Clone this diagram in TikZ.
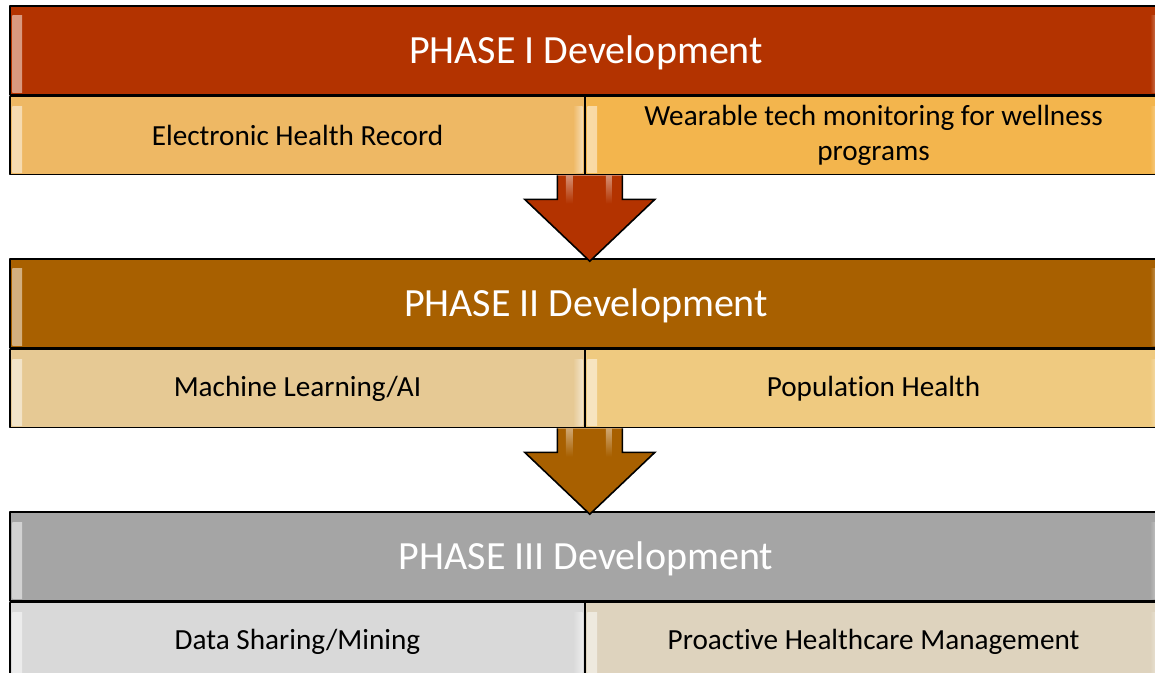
\documentclass[tikz,border=0pt]{standalone}
\usepackage{fontspec}
\setmainfont{Carlito}[Ligatures=NoCommon]
\usetikzlibrary{calc,positioning}
\definecolor{phRust}{HTML}{B33300}
\definecolor{phBrown}{HTML}{A86000}
\definecolor{phGray}{HTML}{A5A5A5}
\definecolor{phSandA}{HTML}{EEB864}
\definecolor{phSandB}{HTML}{F3B54D}
\definecolor{phTanA}{HTML}{E6C994}
\definecolor{phTanB}{HTML}{EFCA80}
\definecolor{phSilver}{HTML}{D9D9D9}
\definecolor{phLinen}{HTML}{DED3BE}
\tikzset{
 board/.style={line join=round,x=.5pt,y=-.5pt},
 bar/.style={rectangle,draw=black,line width=.8pt,inner sep=0pt,fill=#1,
   path picture={
     \shade[left color=white!50!#1,right color=#1]
       ([shift={(1.2pt,-5pt)}]path picture bounding box.north west) rectangle
       ([shift={(6pt,1.2pt)}]path picture bounding box.south west);
     \shade[left color=#1,right color=white!50!#1]
       ([shift={(-6pt,-5pt)}]path picture bounding box.north east) rectangle
       ([shift={(-1.2pt,1.2pt)}]path picture bounding box.south east);}},
 head/.style={bar=#1,minimum width=576pt,minimum height=44.5pt,text=white,
   text depth=1pt,font=\fontsize{20}{24}\selectfont},
 item/.style={bar=#1,minimum height=39pt,align=center,
   font=\fontsize{14.6}{17.5}\selectfont},
 drop/.style={draw=black,line width=.8pt,fill=#1,line join=miter},
 gleam/.style={top color=white!45!#1,bottom color=#1}
}
% block arrow hanging from the split of the item row (#1) down to header #2
\newcommand\droparrow[3]{%
 \coordinate (s#2) at ([xshift=2pt]#1.south east);
 \coordinate (t#2) at ([yshift=-1.5pt]s#2|-#2.north);
 \draw[drop=#3] ([xshift=-16.25pt]s#2) |- ([xshift=-32.5pt,yshift=-12pt]s#2)
   -- (t#2) -- ([xshift=32.5pt,yshift=-12pt]s#2) -| ([xshift=16.25pt]s#2);
 \shade[gleam=#3] ([xshift=-12pt]s#2) rectangle ([xshift=-8.5pt,yshift=-14pt]s#2);
 \shade[gleam=#3] ([xshift=8pt]s#2) rectangle ([xshift=11pt,yshift=-14pt]s#2);
}

\begin{document}
\begin{tikzpicture}[board]
 \useasboundingbox (0,0) rectangle (1155,673);
 % phase I
 \node[head=phRust] (hd1) at (586,50.5) {PHASE I Development};
 \node[item=phSandA,minimum width=287.5pt,anchor=north west] (a1) at (hd1.south west) {Electronic Health Record};
 \node[item=phSandB,minimum width=288.5pt,anchor=north east] (b1) at (hd1.south east) {Wearable tech monitoring for wellness\\programs};
 % phase II
 \node[head=phBrown] (hd2) at (586,303.5) {PHASE II Development};
 \node[item=phTanA,minimum width=287.5pt,anchor=north west] (a2) at (hd2.south west) {Machine Learning/AI};
 \node[item=phTanB,minimum width=288.5pt,anchor=north east] (b2) at (hd2.south east) {Population Health};
 % phase III
 \node[head=phGray] (hd3) at (586,556.5) {PHASE III Development};
 \node[item=phSilver,minimum width=287.5pt,anchor=north west] (a3) at (hd3.south west) {Data Sharing/Mining};
 \node[item=phLinen,minimum width=288.5pt,anchor=north east] (b3) at (hd3.south east) {Proactive Healthcare Management};
 % arrows between the phases
 \droparrow{a1}{hd2}{phRust}
 \droparrow{a2}{hd3}{phBrown}
\end{tikzpicture}
\end{document}
